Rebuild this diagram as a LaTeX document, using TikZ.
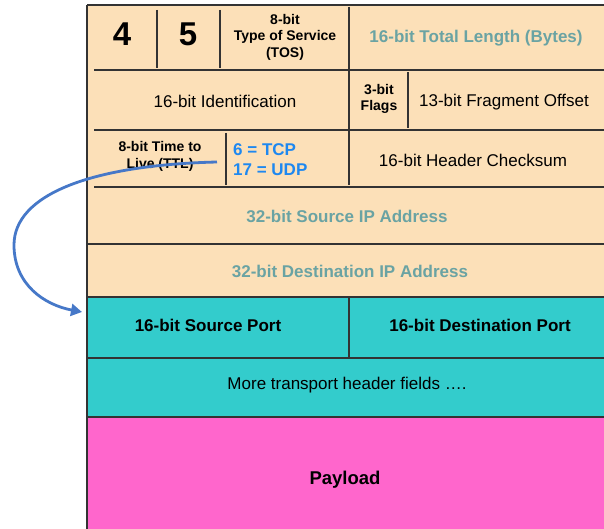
\documentclass[tikz,border=0pt]{standalone}
\usepackage{fontspec}
\setmainfont{Liberation Sans}
\usetikzlibrary{arrows.meta}
\definecolor{beigec}{HTML}{FCE0B8}
\definecolor{tealc}{HTML}{33CCCC}
\definecolor{pinkc}{HTML}{FF66CC}
\definecolor{graytext}{HTML}{6AA3A3}
\definecolor{bluetext}{HTML}{1E88F0}
\definecolor{arrowblue}{HTML}{4678C8}
\definecolor{linec}{HTML}{333333}
\tikzset{
  border/.style={draw=linec, line width=1.3pt},
  reg/.style={font=\fontsize{17}{19}\selectfont, text=black},
  bld/.style={font=\fontsize{17}{19}\selectfont\bfseries, text=black},
  sml/.style={font=\fontsize{14}{16.5}\selectfont\bfseries, align=center, text=black},
  big/.style={font=\fontsize{33}{35}\selectfont\bfseries, text=black},
  gry/.style={font=\fontsize{17}{19}\selectfont\bfseries, text=graytext},
  conn/.style={draw=arrowblue, line width=2.8pt, -{Triangle[length=11pt,width=12pt]}}
}
\begin{document}
\begin{tikzpicture}[x=1pt,y=-1pt]
\useasboundingbox (0,0) rectangle (604,529);
% fills
\fill[beigec] (87,5) rectangle (604,297);
\fill[tealc] (87,297) rectangle (604,417);
\fill[pinkc] (87,417) rectangle (604,529);
% outer edges
\draw[border] (87,5) -- (604,5);
\draw[border] (87,5) -- (87,529);
% row separators
\draw[border] (94,70) -- (604,70);
\draw[border] (94,130) -- (604,130);
\draw[border] (94,187) -- (604,187);
\draw[border] (87,244) -- (604,244);
\draw[border] (87,297) -- (604,297);
\draw[border] (87,358) -- (604,358);
\draw[border] (87,417) -- (604,417);
% verticals
\draw[border] (157,10) -- (157,68);
\draw[border] (220,10) -- (220,68);
\draw[border] (349,7) -- (349,185);
\draw[border] (408,72) -- (408,128);
\draw[border] (226,133) -- (226,185);
\draw[border] (349,297) -- (349,358);
% texts
\node[big] (ver) at (122,34) {4};
\node[big] (ihl) at (188,34) {5};
\node[sml] (tos) at (285,37) {8-bit\\Type of Service\\(TOS)};
\node[gry] (tlen) at (476,38) {16-bit Total Length (Bytes)};
\node[reg] (ident) at (225,101) {16-bit Identification};
\node[sml, font=\fontsize{14}{16}\selectfont\bfseries] (flags) at (379,99) {3-bit\\Flags};
\node[reg] (frag) at (504,102) {13-bit Fragment Offset};
\node[sml, font=\fontsize{14}{17}\selectfont\bfseries] (ttl) at (160,156) {8-bit Time to\\Live (TTL)};
\node[font=\fontsize{17}{20}\selectfont\bfseries, text=bluetext, align=left, anchor=west, inner sep=0pt] (proto) at (233,160) {6 = TCP\\17 = UDP};
\node[reg] (csum) at (473,160) {16-bit Header Checksum};
\node[gry] (src) at (347,216) {32-bit Source IP Address};
\node[gry] (dst) at (350,271) {32-bit Destination IP Address};
\node[bld] (sport) at (208,325) {16-bit Source Port};
\node[bld] (dport) at (480,325) {16-bit Destination Port};
\node[reg] (more) at (347,385) {More transport header fields \ldots.};
\node[font=\fontsize{18.5}{20}\selectfont\bfseries] (payload) at (345,480) {Payload};
% connector
\coordinate (cstart) at ([xshift=-16pt,yshift=-2pt]proto.west);
\coordinate (cend) at (82,312);
\draw[conn] (cstart) .. controls (90,165) and (14,195) .. (14,245) .. controls (14,285) and (45,305) .. (cend);
\end{tikzpicture}
\end{document}
